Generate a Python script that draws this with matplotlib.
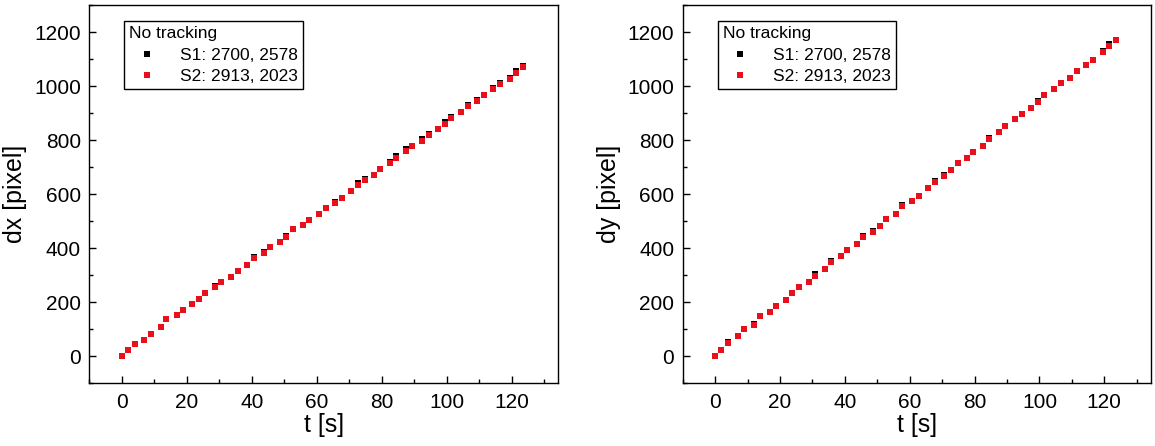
import matplotlib
matplotlib.use("Agg")
import matplotlib.pyplot as plt
from matplotlib.ticker import MultipleLocator

plt.rcParams['font.family'] = ['Liberation Sans', 'DejaVu Sans']

t = [0, 1.95, 3.95, 6.95, 8.85, 11.95, 13.75, 16.85, 18.9, 21.75,
     23.8, 25.75, 28.85, 30.7, 33.75, 35.75, 38.7, 40.75, 43.8, 45.7,
     48.75, 50.7, 52.75, 55.65, 57.7, 60.75, 62.8, 65.65, 67.65, 70.7,
     72.65, 74.75, 77.7, 79.65, 82.6, 84.55, 87.6, 89.5, 92.55, 94.6,
     97.45, 99.55, 101.45, 104.55, 106.5, 109.45, 111.45, 114.4, 116.4, 119.5,
     121.45, 123.5]

dx_s2 = [0, 23, 43, 59, 82, 108, 137, 152, 171, 193,
         211, 234, 255, 275, 292, 315, 338, 364, 382, 405,
         421, 442, 469, 485, 505, 527, 549, 568, 587, 610,
         635, 653, 672, 694, 714, 735, 761, 779, 798, 820,
         840, 861, 883, 903, 926, 944, 966, 988, 1007, 1027,
         1050, 1070]
dx_s1 = [0, 23, 43, 59, 82, 108, 137, 152, 171, 193,
         211, 234, 259, 275, 292, 315, 338, 368, 386, 405,
         421, 446, 469, 485, 505, 527, 549, 572, 587, 610,
         639, 657, 672, 694, 718, 739, 765, 779, 802, 824,
         840, 865, 887, 903, 930, 948, 966, 992, 1011, 1031,
         1054, 1074]

dy_s2 = [0, 24, 48, 74, 100, 116, 147, 163, 186, 208,
         235, 257, 275, 298, 323, 349, 371, 392, 416, 442,
         460, 481, 508, 527, 557, 575, 594, 623, 646, 665,
         690, 715, 735, 757, 779, 805, 828, 850, 876, 898,
         918, 942, 965, 989, 1011, 1031, 1054, 1076, 1098, 1125,
         1150, 1169]
dy_s1 = [0, 24, 52, 74, 100, 120, 147, 163, 186, 208,
         235, 257, 275, 302, 323, 353, 371, 392, 416, 446,
         464, 481, 508, 527, 561, 575, 594, 623, 650, 669,
         690, 715, 735, 757, 779, 809, 828, 850, 876, 898,
         918, 946, 965, 989, 1011, 1031, 1054, 1076, 1098, 1129,
         1154, 1169]

legend_title = "No tracking"
s1_label = "S1: 2700, 2578"
s2_label = "S2: 2913, 2023"

RED = '#e8101a'

fig = plt.figure(figsize=(11.55, 4.46), dpi=100)
W, H = 1155, 446
ax1 = fig.add_axes([89.3 / W, (H - 383) / H, (558.3 - 89.3) / W, (383 - 5) / H])
ax2 = fig.add_axes([682.7 / W, (H - 383) / H, (1151 - 682.7) / W, (383 - 5) / H])

for ax, s1, s2, ylab in [(ax1, dx_s1, dx_s2, 'dx [pixel]'), (ax2, dy_s1, dy_s2, 'dy [pixel]')]:
    ax.plot(t, s1, linestyle='none', marker='s', markersize=3.9, color='black',
            markeredgewidth=0, label=s1_label)
    ax.plot(t, s2, linestyle='none', marker='s', markersize=3.9, color=RED,
            markeredgewidth=0, label=s2_label)
    ax.set_xlim(-10, 134.4)
    ax.set_ylim(-100, 1300)
    ax.xaxis.set_major_locator(MultipleLocator(20))
    ax.xaxis.set_minor_locator(MultipleLocator(10))
    ax.yaxis.set_major_locator(MultipleLocator(200))
    ax.yaxis.set_minor_locator(MultipleLocator(100))
    ax.tick_params(which='both', direction='in', top=False, right=False,
                   width=1.0, labelsize=15)
    ax.tick_params(axis='y', pad=6)
    ax.tick_params(axis='x', pad=7)
    ax.tick_params(which='major', length=5)
    ax.tick_params(which='minor', length=2.6)
    for sp in ax.spines.values():
        sp.set_linewidth(1.0)
    ax.set_xlabel('t [s]', fontsize=18, labelpad=1)
    ax.set_ylabel(ylab, fontsize=18, labelpad=5)
    leg = ax.legend(title=legend_title, loc='upper left',
                    bbox_to_anchor=(0.0746, 0.957), fontsize=12.5,
                    title_fontsize=12.5, frameon=True, fancybox=False,
                    edgecolor='black', framealpha=1, handlelength=2.0,
                    handletextpad=0.9, borderpad=0.3, labelspacing=0.35,
                    markerscale=1.0, borderaxespad=0)
    leg.get_frame().set_linewidth(1.0)
    leg._legend_box.align = 'left'

fig.savefig('out.png', dpi=100)
